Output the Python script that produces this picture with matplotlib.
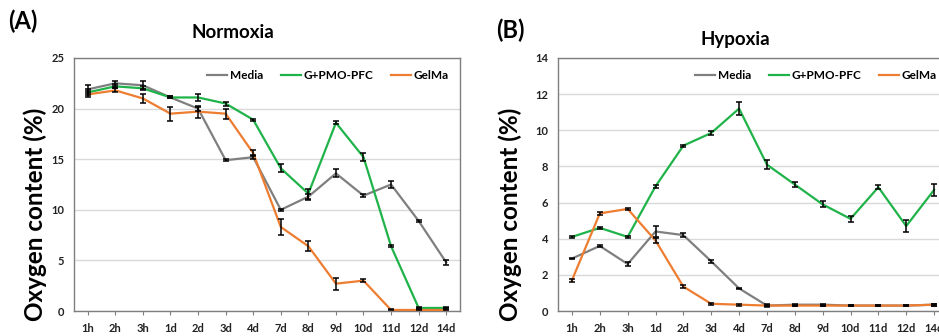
import matplotlib.pyplot as plt

# ── Data ──────────────────────────────────────────────────────────────────────
TIMES = ["1h", "2h", "3h", "1d", "2d", "3d", "4d", "7d", "8d", "9d", "10d", "11d", "12d", "14d"]

# Normoxia (A)
norm_media     = [21.9, 22.5, 22.3, 21.1, 20.0, 14.9, 15.2, 10.0, 11.3, 13.6, 11.4, 12.5, 8.9, 4.8]
norm_media_err = [0.4, 0.25, 0.4, 0.1, 0.2, 0.1, 0.2, 0.1, 0.3, 0.4, 0.15, 0.3, 0.1, 0.25]
norm_pfc       = [21.6, 22.2, 22.0, 21.1, 21.1, 20.5, 18.9, 14.1, 11.6, 18.6, 15.2, 6.4, 0.3, 0.3]
norm_pfc_err   = [0.3, 0.2, 0.2, 0.1, 0.3, 0.2, 0.1, 0.4, 0.5, 0.15, 0.4, 0.1, 0.05, 0.05]
norm_gelma     = [21.4, 21.8, 21.0, 19.5, 19.7, 19.5, 15.6, 8.3, 6.4, 2.7, 3.0, 0.1, 0.1, 0.1]
norm_gelma_err = [0.3, 0.2, 0.4, 0.7, 0.6, 0.5, 0.3, 0.8, 0.5, 0.6, 0.15, 0.05, 0.05, 0.05]

# Hypoxia (B)
hyp_media      = [2.9, 3.6, 2.6, 4.4, 4.2, 2.75, 1.25, 0.3, 0.35, 0.35, 0.3, 0.3, 0.3, 0.35]
hyp_media_err  = [0.05, 0.05, 0.1, 0.3, 0.1, 0.08, 0.05, 0.1, 0.05, 0.05, 0.05, 0.05, 0.05, 0.05]
hyp_pfc        = [4.1, 4.6, 4.1, 6.9, 9.15, 9.85, 11.2, 8.1, 7.0, 5.9, 5.1, 6.85, 4.7, 6.7]
hyp_pfc_err    = [0.05, 0.05, 0.05, 0.08, 0.05, 0.12, 0.35, 0.25, 0.12, 0.17, 0.15, 0.12, 0.35, 0.35]
hyp_gelma      = [1.7, 5.4, 5.65, 3.9, 1.35, 0.4, 0.35, 0.3, 0.3, 0.3, 0.3, 0.3, 0.3, 0.35]
hyp_gelma_err  = [0.08, 0.08, 0.05, 0.15, 0.1, 0.05, 0.05, 0.05, 0.05, 0.05, 0.05, 0.05, 0.05, 0.05]

LABELS = ["Media", "G+PMO-PFC", "GelMa"]
COLORS = ["#7f7f7f", "#1fb34a", "#ed7d31"]

plt.rcParams["font.family"] = ["Lato", "DejaVu Sans"]

fig = plt.figure(figsize=(9.39, 3.36), dpi=100)
axA = fig.add_axes([74 / 939, 25 / 336, 386 / 939, 253 / 336])
axB = fig.add_axes([558 / 939, 25 / 336, 390 / 939, 253 / 336])


def draw(ax, series, ymax, ystep):
    x = list(range(len(TIMES)))
    for (vals, errs), lab, col in zip(series, LABELS, COLORS):
        ax.plot(x, vals, color=col, linewidth=1.6, label=lab, zorder=3)
        ax.errorbar(x, vals, yerr=errs, fmt="none", ecolor="black",
                    elinewidth=1.1, capsize=2, capthick=1.1, zorder=4)
    ax.set_xlim(-0.5, len(TIMES) - 0.5)
    ax.set_ylim(0, ymax)
    ax.set_yticks(range(0, ymax + 1, ystep))
    ax.set_xticks(x)
    ax.set_xticklabels(TIMES)
    ax.grid(axis="y", color="#d9d9d9", linewidth=1.0, zorder=0)
    ax.set_axisbelow(True)
    for s in ax.spines.values():
        s.set_color("#7f7f7f")
        s.set_linewidth(1.0)
    ax.tick_params(axis="y", length=0, pad=7, labelsize=8, colors="#222222")
    ax.tick_params(axis="x", length=3, color="#7f7f7f", pad=6, labelsize=8,
                   colors="#222222")
    for t in ax.get_xticklabels() + ax.get_yticklabels():
        t.set_fontweight("bold")
    ax.legend(loc="upper right", ncol=3, frameon=False, handlelength=1.7,
              handletextpad=0.2, columnspacing=1.5, borderaxespad=0.6,
              prop={"weight": "bold", "size": 8.5})


draw(axA, [(norm_media, norm_media_err), (norm_pfc, norm_pfc_err),
           (norm_gelma, norm_gelma_err)], 25, 5)
draw(axB, [(hyp_media, hyp_media_err), (hyp_pfc, hyp_pfc_err),
           (hyp_gelma, hyp_gelma_err)], 14, 2)

# titles and panel letters
fig.text(233 / 939, 1 - 32 / 336, "Normoxia", ha="center", va="center",
         fontsize=13.5, fontweight="bold")
fig.text(735 / 939, 1 - 40 / 336, "Hypoxia", ha="center", va="center",
         fontsize=13.5, fontweight="bold")
fig.text(8 / 939, 1 - 21 / 336, "(A)", ha="left", va="center",
         fontsize=17, fontweight="bold")
fig.text(496 / 939, 1 - 30 / 336, "(B)", ha="left", va="center",
         fontsize=17, fontweight="bold")

# y labels
for xpos in (35, 510):
    fig.text(xpos / 939, 1 - 214 / 336, "Oxygen content (%)", rotation=90,
             ha="center", va="center", fontsize=17.5, fontweight="bold")

fig.savefig("out.png", dpi=100)
